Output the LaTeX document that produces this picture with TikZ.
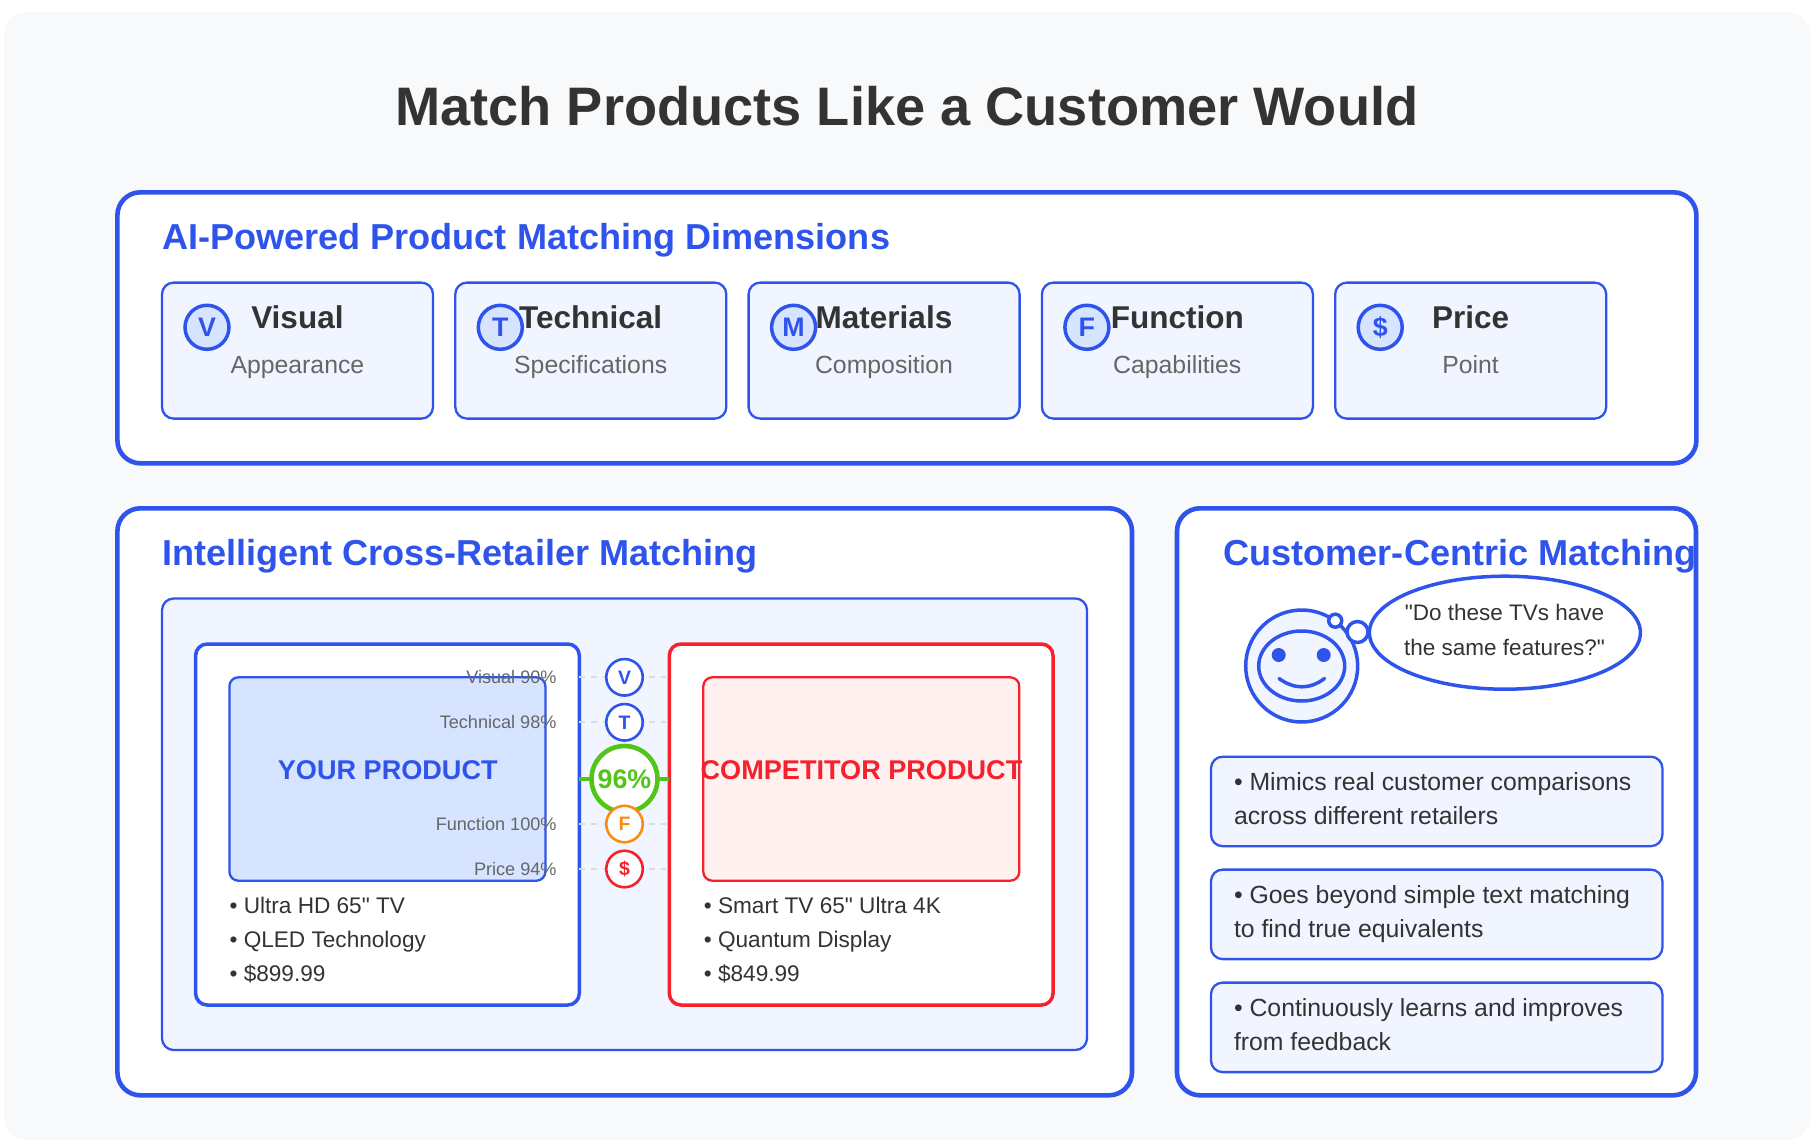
\documentclass[tikz,border=0pt]{standalone}
\usepackage{fontspec}
\usetikzlibrary{shapes.geometric}
\setmainfont{Liberation Sans}
\newfontfamily\rawf{Liberation Sans}
\definecolor{bgc}{HTML}{F8F9FA}
\definecolor{blu}{HTML}{2F54EB}
\definecolor{lblu}{HTML}{F0F5FF}
\definecolor{mblu}{HTML}{D6E4FF}
\definecolor{redc}{HTML}{F5222D}
\definecolor{lred}{HTML}{FFF1F0}
\definecolor{grn}{HTML}{52C41A}
\definecolor{org}{HTML}{FA8C16}
\definecolor{ink}{HTML}{333333}
\definecolor{gry}{HTML}{666666}
\definecolor{dsh}{HTML}{DDDDDD}
\newcommand{\fsz}[1]{\fontsize{#1pt}{#1pt}\selectfont}
\tikzset{
  box/.style={rectangle,inner sep=0pt,outer sep=0pt,anchor=north west},
  panel/.style={box,draw=blu,fill=white,line width=4.6pt,rounded corners=23pt},
  card/.style={box,draw=blu,fill=lblu,line width=2.3pt,rounded corners=11.6pt},
  prod/.style={box,fill=white,line width=3.5pt,rounded corners=11.6pt},
  shot/.style={box,line width=2.3pt,rounded corners=9pt},
  txt/.style={inner sep=0pt,outer sep=0pt,anchor=base},
  txtl/.style={txt,anchor=base west},
  txtr/.style={txt,anchor=base east},
  sect/.style={txtl,text=blu,font=\fsz{36.1}\bfseries},
  ctitle/.style={txt,text=ink,font=\fsz{31.5}\bfseries},
  csub/.style={txt,text=gry,font=\fsz{24.8}},
  cicon/.style={circle,draw=blu,fill=mblu,line width=3.5pt,minimum size=44pt,inner sep=0pt,outer sep=0pt},
  clet/.style={txt,text=blu,font=\fsz{26.8}\bfseries},
  dim/.style={circle,fill=white,line width=2.6pt,minimum size=36.5pt,inner sep=0pt,outer sep=0pt,text=#1,draw=#1,font=\fsz{19.5}\bfseries},
  lab/.style={txtr,text=gry,font=\fsz{18.1}},
  blt/.style={txtl,text=ink,font=\fsz{22.6}},
  bul/.style={txtl,text=ink,font=\fsz{24.8}},
  dline/.style={draw=dsh,line width=2.3pt,dash pattern=on 5.8pt off 5.8pt},
  head/.style={draw=blu,line width=3.5pt},
}
\begin{document}
\begin{tikzpicture}[x=1pt,y=-1pt]
\useasboundingbox (0,0) rectangle (1815,1146);
\fill[white] (0,0) rectangle (1815,1146);
\node[box,fill=bgc,rounded corners=23pt,minimum width=1806pt,minimum height=1128pt] (bg) at (4,12) {};
\node[txt,text=ink,font=\fsz{54.2}\bfseries] (title) at (906.8,125) {Match Products Like a Customer Would};

% top panel
\node[panel,minimum width=1579pt,minimum height=271pt] (p1) at (117.4,192.3) {};
\node[sect] (p1t) at (162,249) {AI-Powered Product Matching Dimensions};
\foreach \n/\x/\a/\b/\c in {1/162/Visual/Appearance/V,2/455.3/Technical/Specifications/T,3/748.6/Materials/Composition/M,4/1041.9/Function/Capabilities/F,5/1335.2/Price/Point/\$}{
  \node[card,minimum width=271pt,minimum height=136pt] (c\n) at (\x,282.6) {};
  \node[cicon] (ci\n) at (\x+45,327.3) {};
  \node[clet] (cl\n) at (\x+45,336.8) {\c};
  \node[ctitle] (ct\n) at (\x+135.4,328.5) {\a};
  \node[csub] (cs\n) at (\x+135.4,373.5) {\b};
}

% middle panel
\node[panel,minimum width=1014.6pt,minimum height=587pt] (p2) at (117.4,508.3) {};
\node[sect] (p2t) at (162,565) {Intelligent Cross-Retailer Matching};
\node[card,minimum width=925pt,minimum height=451.5pt] (inner) at (162,598.5) {};

\node[prod,draw=blu,minimum width=383.7pt,minimum height=361pt] (yours) at (195.6,644) {};
\node[prod,draw=redc,minimum width=383.7pt,minimum height=361pt] (comp) at (669.3,644) {};
\node[shot,draw=blu,fill=mblu,minimum width=316pt,minimum height=203.4pt] (yshot) at (229.4,677.3) {};
\node[shot,draw=redc,fill=lred,minimum width=316pt,minimum height=203.4pt] (cshot) at (703.3,677.3) {};
\node[txt,text=blu,font=\fsz{27.1}\bfseries] (ylab) at (387.8,779) {YOUR PRODUCT};
\node[txt,text=redc,font=\fsz{27.1}\bfseries] (clab) at (861.5,779) {COMPETITOR PRODUCT};

\node[blt] (y1) at (229.6,913.3) {{\rawf • Ultra HD 65" TV}};
\node[blt] (y2) at (229.6,947.3) {• QLED Technology};
\node[blt] (y3) at (229.6,981.3) {• \$899.99};
\node[blt] (r1) at (703.9,913.3) {{\rawf • Smart TV 65" Ultra 4K}};
\node[blt] (r2) at (703.9,947.3) {• Quantum Display};
\node[blt] (r3) at (703.9,981.3) {• \$849.99};

% connectors
\coordinate (mv) at (624.5,677.3);
\coordinate (mt) at (624.5,722.3);
\coordinate (ms) at (624.5,779);
\coordinate (mf) at (624.5,824);
\coordinate (mp) at (624.5,869);
\foreach \m in {mv,mt,mf,mp}{
  \draw[dline] (yours.east |- \m) -- (comp.west |- \m);
}
\draw[grn,line width=4.6pt] (yours.east |- ms) -- (comp.west |- ms);
\node[circle,draw=grn,fill=white,line width=4.6pt,minimum size=66pt,inner sep=0pt,outer sep=0pt,text=grn,font=\fsz{26.8}\bfseries] (score) at (ms) {96\%};
\node[dim=blu] (dv) at (mv) {V};
\node[dim=blu] (dt) at (mt) {T};
\node[dim=org] (df) at (mf) {F};
\node[dim=redc] (dp) at (mp) {\$};
\node[lab] (lv) at (556.5,683) {Visual 90\%};
\node[lab] (lt) at (556.5,728) {Technical 98\%};
\node[lab] (lf) at (556.5,830) {Function 100\%};
\node[lab] (lp) at (556.5,875) {Price 94\%};

% right panel
\node[panel,minimum width=519pt,minimum height=587pt] (p3) at (1177,508.3) {};
\node[sect] (p3t) at (1223.5,565) {Customer-Centric Matching};
\draw[head,fill=lblu] (1301.7,666) circle[radius=56pt];
\draw[head,fill=lblu] (1301.7,666) ellipse[x radius=43pt,y radius=35pt];
\fill[blu] (1278.7,655) circle[radius=7pt];
\fill[blu] (1323.7,655) circle[radius=7pt];
\draw[head,line cap=round] (1279,678.5) .. controls (1294.3,689.6) and (1309.7,689.6) .. (1324.5,678.5);
\node[draw=blu,fill=white,line width=3.5pt,ellipse,minimum width=271pt,minimum height=113pt,inner sep=0pt,outer sep=0pt] (bub) at (1504.9,632.7) {};
\draw[head,fill=white] (1335.2,620.7) circle[radius=6.5pt];
\draw[head,fill=white] (1357.5,632) circle[radius=10.5pt];
\node[txt,text=ink,font=\fsz{22.5}] (q1) at (1504.5,620.7) {{\rawf "Do these TVs have}};
\node[txt,text=ink,font=\fsz{22.5}] (q2) at (1504.5,655) {{\rawf the same features?"}};

\node[card,minimum width=451.4pt,minimum height=89.5pt] (b1) at (1211,756.7) {};
\node[card,minimum width=451.4pt,minimum height=89.5pt] (b2) at (1211,869.6) {};
\node[card,minimum width=451.4pt,minimum height=89.5pt] (b3) at (1211,982.6) {};
\node[bul] (b1a) at (1234,790) {• Mimics real customer comparisons};
\node[bul] (b1b) at (1234,824) {across different retailers};
\node[bul] (b2a) at (1234,903) {• Goes beyond simple text matching};
\node[bul] (b2b) at (1234,937) {to find true equivalents};
\node[bul] (b3a) at (1234,1016) {• Continuously learns and improves};
\node[bul] (b3b) at (1234,1050) {from feedback};
\end{tikzpicture}
\end{document}
